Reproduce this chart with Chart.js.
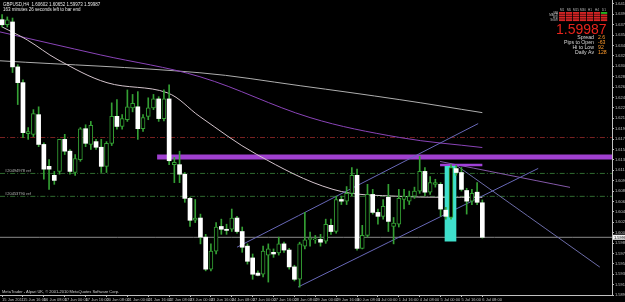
<!DOCTYPE html>
<html>
<head>
<meta charset="utf-8">
<title>GBPUSD,H4</title>
<script src="https://cdn.jsdelivr.net/npm/chart.js@4.4.0/dist/chart.umd.min.js"></script>
<style>
  html, body { margin: 0; padding: 0; background: #000; }
  #chart { display: block; }
</style>
</head>
<body>
<canvas id="chart" width="625" height="302"></canvas>
<script>
// GBPUSD H4 candles, 15 Jun - 6 Jul 2011
const symbol = 'GBPUSD,H4';

const opens = [
  1.6386, 1.6377, 1.6382, 1.6302, 1.6274, 1.6183, 1.6182, 1.6217, 1.6164, 1.6125,
  1.6109, 1.6116, 1.6173, 1.6152, 1.6114, 1.6137, 1.6192, 1.6164, 1.6169, 1.6159,
  1.6125, 1.6166, 1.6214, 1.6196, 1.6208, 1.6229, 1.6231, 1.6192, 1.6214, 1.6229,
  1.6245, 1.6210, 1.6245, 1.6128, 1.6128, 1.6111, 1.6068, 1.6029, 1.6033, 1.5999,
  1.5942, 1.5974, 1.6018, 1.6013, 1.6013, 1.6033, 1.6009, 1.5983, 1.5962, 1.5935,
  1.5933, 1.5967, 1.5972, 1.5971, 1.5987, 1.5976, 1.5946, 1.5924, 1.5983, 1.5995,
  1.5994, 1.5995, 1.5992, 1.6020, 1.6009, 1.6066, 1.6063, 1.6077, 1.6109, 1.5979,
  1.6002, 1.6075, 1.6043, 1.6036, 1.6070, 1.6018, 1.6022, 1.6066, 1.6063, 1.6072,
  1.6081, 1.6116, 1.6079, 1.6093, 1.6093, 1.6047, 1.6034, 1.6121, 1.6114, 1.6082,
  1.6063, 1.6079, 1.60602
];
const highs = [
  1.6395, 1.6391, 1.6389, 1.6306, 1.6279, 1.6194, 1.6226, 1.6231, 1.6167, 1.6137,
  1.6116, 1.6173, 1.6182, 1.6155, 1.6146, 1.6194, 1.6199, 1.6205, 1.6173, 1.6173,
  1.6169, 1.6238, 1.6244, 1.6217, 1.6261, 1.6253, 1.6258, 1.6217, 1.6247, 1.6253,
  1.6249, 1.6261, 1.6270, 1.6141, 1.6152, 1.6114, 1.6070, 1.6066, 1.6040, 1.6004,
  1.5987, 1.6025, 1.6031, 1.6022, 1.6049, 1.6036, 1.6017, 1.5987, 1.5969, 1.5939,
  1.5983, 1.5987, 1.5978, 1.5999, 1.5990, 1.5979, 1.5949, 1.5990, 1.6043, 1.6008,
  1.6002, 1.6004, 1.6031, 1.6031, 1.6072, 1.6072, 1.6089, 1.6123, 1.6120, 1.6020,
  1.6093, 1.6084, 1.6049, 1.6066, 1.6093, 1.6034, 1.6084, 1.6084, 1.6081, 1.6088,
  1.6143, 1.6123, 1.6107, 1.6102, 1.6096, 1.6052, 1.6128, 1.6127, 1.6123, 1.6086,
  1.6084, 1.6096, 1.60652
];
const lows = [
  1.6373, 1.6373, 1.6292, 1.6235, 1.6176, 1.6173, 1.6178, 1.6160, 1.6102, 1.6084,
  1.6093, 1.6111, 1.6146, 1.6111, 1.6109, 1.6134, 1.6160, 1.6155, 1.6155, 1.6114,
  1.6114, 1.6162, 1.6191, 1.6191, 1.6205, 1.6222, 1.6173, 1.6187, 1.6208, 1.6226,
  1.6205, 1.6206, 1.6128, 1.6096, 1.6096, 1.6061, 1.6018, 1.6025, 1.5987, 1.5939,
  1.5939, 1.5969, 1.6004, 1.6004, 1.6009, 1.6006, 1.5972, 1.5951, 1.5924, 1.5930,
  1.5928, 1.5919, 1.5963, 1.5967, 1.5972, 1.5942, 1.5921, 1.5910, 1.5978, 1.5983,
  1.5988, 1.5983, 1.5988, 1.6004, 1.6006, 1.6057, 1.6057, 1.6073, 1.5976, 1.5978,
  1.5999, 1.6040, 1.6022, 1.6031, 1.6009, 1.5987, 1.6017, 1.6049, 1.6057, 1.6068,
  1.6077, 1.6073, 1.6075, 1.6088, 1.6036, 1.6031, 1.6031, 1.6109, 1.6081, 1.6040,
  1.6057, 1.6057, 1.59973
];
const closes = [
  1.6377, 1.6386, 1.6302, 1.6274, 1.6185, 1.6187, 1.6219, 1.6164, 1.6120, 1.6120,
  1.6100, 1.6173, 1.6152, 1.6116, 1.6139, 1.6192, 1.6166, 1.6198, 1.6159, 1.6125,
  1.6166, 1.6214, 1.6196, 1.6210, 1.6231, 1.6237, 1.6192, 1.6212, 1.6229, 1.6245,
  1.6210, 1.6245, 1.6135, 1.6132, 1.6111, 1.6068, 1.6029, 1.6033, 1.5999, 1.5942,
  1.5974, 1.6017, 1.6013, 1.6011, 1.6033, 1.6009, 1.5981, 1.5956, 1.5933, 1.5931,
  1.5974, 1.5978, 1.5969, 1.5987, 1.5976, 1.5946, 1.5924, 1.5987, 1.5994, 1.5997,
  1.5995, 1.5990, 1.6022, 1.6009, 1.6066, 1.6063, 1.6077, 1.6109, 1.5979, 1.6002,
  1.6075, 1.6043, 1.6036, 1.6054, 1.6027, 1.6024, 1.6068, 1.6072, 1.6072, 1.6081,
  1.6116, 1.6079, 1.6096, 1.6096, 1.6049, 1.6036, 1.6123, 1.6114, 1.6084, 1.6063,
  1.6077, 1.6061, 1.59987
];

// one label every 4 bars (16 hours)
const timeLabels = [
  '15 Jun 2011', '15 Jun 16:00', '16 Jun 08:00', '17 Jun 00:00', '17 Jun 16:00',
  '20 Jun 08:00', '21 Jun 00:00', '21 Jun 16:00', '22 Jun 08:00', '23 Jun 00:00',
  '23 Jun 16:00', '24 Jun 08:00', '27 Jun 00:00', '27 Jun 16:00', '28 Jun 08:00',
  '29 Jun 00:00', '29 Jun 16:00', '30 Jun 08:00', '1 Jul 00:00', '1 Jul 16:00',
  '4 Jul 08:00', '5 Jul 00:00', '5 Jul 16:00', '6 Jul 08:00'
];

const priceTicks = [
  1.64140, 1.63955, 1.63770, 1.63585, 1.63400, 1.63215, 1.63030, 1.62845, 1.62660, 1.62475,
  1.62290, 1.62105, 1.61920, 1.61735, 1.61550, 1.61365, 1.61180, 1.60995, 1.60810, 1.60625,
  1.60440, 1.60255, 1.60070, 1.59885, 1.59700, 1.59515, 1.59330, 1.59145, 1.58960
];

// moving averages, sampled at [bar, price]
const slowMa = [[-0.4, 1.63129], [37.9, 1.62916], [57.1, 1.62685], [76.2, 1.62437], [92, 1.62206]];
const purpleMa = [[-0.4, 1.63643], [18.8, 1.63235], [37.9, 1.62845], [59, 1.62118], [76.2, 1.61763], [92, 1.61585]];
const fastMa = [[0, 1.63732], [4.8, 1.63501], [10.7, 1.63147], [20.1, 1.62739], [31.6, 1.62561],
  [37.9, 1.62135], [48.8, 1.61461], [63.4, 1.60840], [76.2, 1.60716], [92, 1.60699]];

// drawn objects: trend lines as [[bar, price], [bar, price]]
const channelUpper = [[45, 1.59811], [91.2, 1.62011]];
const channelLower = [[56.7, 1.59102], [102.7, 1.61213]];
const steepLine = [[86.8, 1.61284], [114.5, 1.59457]];
const gentleLine = [[83.9, 1.61337], [108.8, 1.60876]];

// horizontal levels
const resistanceBand = 1.61417;
const resistanceStart = 29.7;
const redLevel = 1.61763;
const refLevels = [1.61124, 1.60716];
const refNames = ['#20494978 ref', '#20453790 ref'];
const shortLevel = 1.61275;
const shortLevelBars = [83.9, 92];
const zoneBar = 85.9;
const zonePrices = [1.59918, 1.61249];
const bidPrice = 1.59987;

// info panel
const timeframes = ['M1', 'M5', 'M15', 'M30', 'H1', 'H4', 'D1'];
const signalNames = ['MA', 'MACD', 'RSI', 'Stoch'];
const signals = [
  [-1, -1, -1, -1, -1, -1, 1],
  [-1, -1, -1, -1, -1, -1, -1],
  [-1, -1, -1, -1, -1, -1, -1],
  [-1, -1, -1, -1, -1, -1, -1]
];
const infoLabels = ['Spread', 'Pips to Open', 'Hi to Low', 'Daily Av'];
const infoValues = ['2.6', '-63', '92', '128'];

const X_MIN = -0.4;
const X_MAX = 116.84;
const Y_MIN = 1.58960;
const Y_MAX = 1.64211;
const WICK = '#34a034';
const AXIS = '#c0c0c0';
const FONT = '"Liberation Sans", Arial, sans-serif';

function pts(list) {
    return list.map(([x, y]) => ({ x, y }));
}

function lineSet(data, color, width, dash, order) {
    return {
        type: 'line',
        data: data,
        borderColor: color,
        borderWidth: width,
        borderDash: dash || [],
        pointRadius: 0,
        tension: 0.35,
        order: order
    };
}

function fullWidth(price) {
    return [{ x: X_MIN, y: price }, { x: X_MAX, y: price }];
}

// black terminal background
const backgroundPlugin = {
    id: 'background',
    beforeDraw(chart) {
        const ctx = chart.ctx;
        ctx.save();
        ctx.fillStyle = '#000';
        ctx.fillRect(0, 0, chart.width, chart.height);
        ctx.restore();
    }
};

// texts and the info panel drawn on top
const overlayPlugin = {
    id: 'overlay',
    afterDraw(chart) {
        const ctx = chart.ctx;
        const yScale = chart.scales.y;
        ctx.save();
        ctx.textBaseline = 'alphabetic';

        // header
        ctx.fillStyle = '#e8e8e8';
        ctx.font = '4.5px ' + FONT;
        ctx.textAlign = 'left';
        const last = opens.length - 1;
        const ohlc = [opens[last], highs[last], lows[last], closes[last]].map(v => v.toFixed(5)).join(' ');
        ctx.fillText(symbol + '  ' + ohlc, 3, 6);
        ctx.fillText('163 minutes 26 seconds left to bar end', 3, 11);

        // copyright
        ctx.fillStyle = '#d0d0d0';
        ctx.font = '4px ' + FONT;
        ctx.fillText('MetaTrader - Alpari UK, \u00a9 2001-2010 MetaQuotes Software Corp.', 2, 293);

        // ref line labels
        ctx.fillStyle = '#b8b8b8';
        refLevels.forEach((p, i) => {
            ctx.fillText(refNames[i], 5, yScale.getPixelForValue(p) - 1.5);
        });

        // signal table
        ctx.font = '3px ' + FONT;
        ctx.fillStyle = '#bdbdbd';
        ctx.textAlign = 'center';
        timeframes.forEach((tf, c) => ctx.fillText(tf, 562 + c * 7, 10.5));
        ctx.textAlign = 'right';
        signalNames.forEach((n, r) => ctx.fillText(n, 558, 14 + r * 2.4));
        signals.forEach((row, r) => {
            row.forEach((s, c) => {
                ctx.fillStyle = s > 0 ? '#22b322' : '#d42424';
                ctx.fillRect(559 + c * 7, 12 + r * 2.4, 6.2, 1.9);
            });
        });

        // big price
        ctx.fillStyle = '#e8241c';
        ctx.font = '14px ' + FONT;
        ctx.textAlign = 'left';
        ctx.fillText(bidPrice.toFixed(5), 556, 34);

        // info lines
        ctx.font = '5.2px ' + FONT;
        infoLabels.forEach((label, i) => {
            const y = 38.5 + i * 5.2;
            ctx.textAlign = 'right';
            ctx.fillStyle = '#d8d8d8';
            ctx.fillText(label, 594, y);
            ctx.textAlign = 'left';
            ctx.fillStyle = '#ff9a2a';
            ctx.fillText(infoValues[i], 598, y);
        });

        // bid price marker on the price scale
        const by = yScale.getPixelForValue(bidPrice);
        const bx = chart.chartArea.right + 1;
        ctx.fillStyle = '#f0f0f0';
        ctx.fillRect(bx, by - 2.5, 625 - bx, 5);
        ctx.fillStyle = '#000';
        ctx.font = '4px ' + FONT;
        ctx.textAlign = 'left';
        ctx.fillText(bidPrice.toFixed(5), bx + 1, by + 1.5);
        ctx.restore();
    }
};

function initChart() {
    const ctx = document.getElementById('chart').getContext('2d');
    const idx = opens.map((_, i) => i);
    const bull = idx.map(i => closes[i] >= opens[i]);

    const datasets = [
        // candle bodies
        {
            type: 'bar',
            data: idx.map(i => ({ x: i, y: [opens[i], closes[i]] })),
            backgroundColor: bull.map(b => b ? '#000000' : '#ffffff'),
            borderColor: bull.map(b => b ? WICK : '#ffffff'),
            borderWidth: bull.map(b => b ? 1 : 0),
            borderSkipped: false,
            barThickness: 4,
            minBarLength: 1,
            grouped: false,
            order: 1
        },
        // wicks
        {
            type: 'bar',
            data: idx.map(i => ({ x: i, y: [lows[i], highs[i]] })),
            backgroundColor: WICK,
            barThickness: 1,
            grouped: false,
            order: 2
        },
        // highlighted zone
        {
            type: 'bar',
            data: [{ x: zoneBar, y: zonePrices }],
            backgroundColor: '#3fe0cc',
            barThickness: 11,
            grouped: false,
            order: 3
        },
        lineSet([{ x: shortLevelBars[0], y: shortLevel }, { x: shortLevelBars[1], y: shortLevel }], '#a040d8', 2.5, null, 4),
        lineSet(pts(channelUpper), '#6868b8', 1, null, 5),
        lineSet(pts(channelLower), '#6868b8', 1, null, 5),
        lineSet(pts(steepLine), '#6c6ca8', 1, null, 5),
        lineSet(pts(gentleLine), '#8458a8', 1, null, 5),
        lineSet(pts(fastMa), '#d4c4cc', 1, null, 6),
        lineSet(pts(purpleMa), '#8a44b8', 1, null, 6),
        lineSet(pts(slowMa), '#aeaeae', 1, null, 6),
        lineSet([{ x: resistanceStart, y: resistanceBand }, { x: X_MAX, y: resistanceBand }], '#a040d0', 5, null, 7),
        lineSet(fullWidth(redLevel), '#7a2222', 1, [5, 2, 1, 2], 8),
        lineSet(fullWidth(refLevels[0]), '#2f6a2f', 1, [5, 2, 1, 2], 8),
        lineSet(fullWidth(refLevels[1]), '#2f6a2f', 1, [5, 2, 1, 2], 8),
        lineSet(fullWidth(bidPrice), '#8a8a8a', 1, null, 8)
    ];

    new Chart(ctx, {
        type: 'bar',
        data: { datasets },
        options: {
            responsive: false,
            animation: false,
            devicePixelRatio: 1,
            layout: { padding: 0 },
            plugins: {
                legend: { display: false },
                tooltip: { enabled: false }
            },
            scales: {
                x: {
                    type: 'linear',
                    offset: false,   // bar charts offset the index axis by default
                    min: X_MIN,
                    max: X_MAX,
                    afterBuildTicks: scale => {
                        scale.ticks = timeLabels.map((_, k) => ({ value: k * 4 }));
                    },
                    afterFit: scale => {
                        scale.height = 7;
                        scale.paddingLeft = 0;
                        scale.paddingRight = 0;
                    },
                    ticks: {
                        callback: v => timeLabels[Math.round(v / 4)],
                        color: AXIS,
                        font: { family: FONT, size: 4 },
                        align: 'start',
                        autoSkip: false,
                        maxRotation: 0,
                        padding: 0
                    },
                    grid: { offset: false, drawOnChartArea: false, drawTicks: true, tickLength: 2, color: AXIS },
                    border: { display: true, color: AXIS }
                },
                y: {
                    position: 'right',
                    min: Y_MIN,
                    max: Y_MAX,
                    afterBuildTicks: scale => {
                        scale.ticks = priceTicks.map(v => ({ value: v }));
                    },
                    afterFit: scale => {
                        scale.width = 13;
                        scale.paddingTop = 0;
                        scale.paddingBottom = 0;
                    },
                    ticks: {
                        callback: v => v.toFixed(5),
                        color: AXIS,
                        font: { family: FONT, size: 4 },
                        padding: 1
                    },
                    grid: { drawOnChartArea: false, drawTicks: true, tickLength: 2, color: AXIS },
                    border: { display: true, color: AXIS }
                }
            }
        },
        plugins: [backgroundPlugin, overlayPlugin]
    });
}

window.addEventListener('DOMContentLoaded', () => {
    initChart();
});
</script>
</body>
</html>
